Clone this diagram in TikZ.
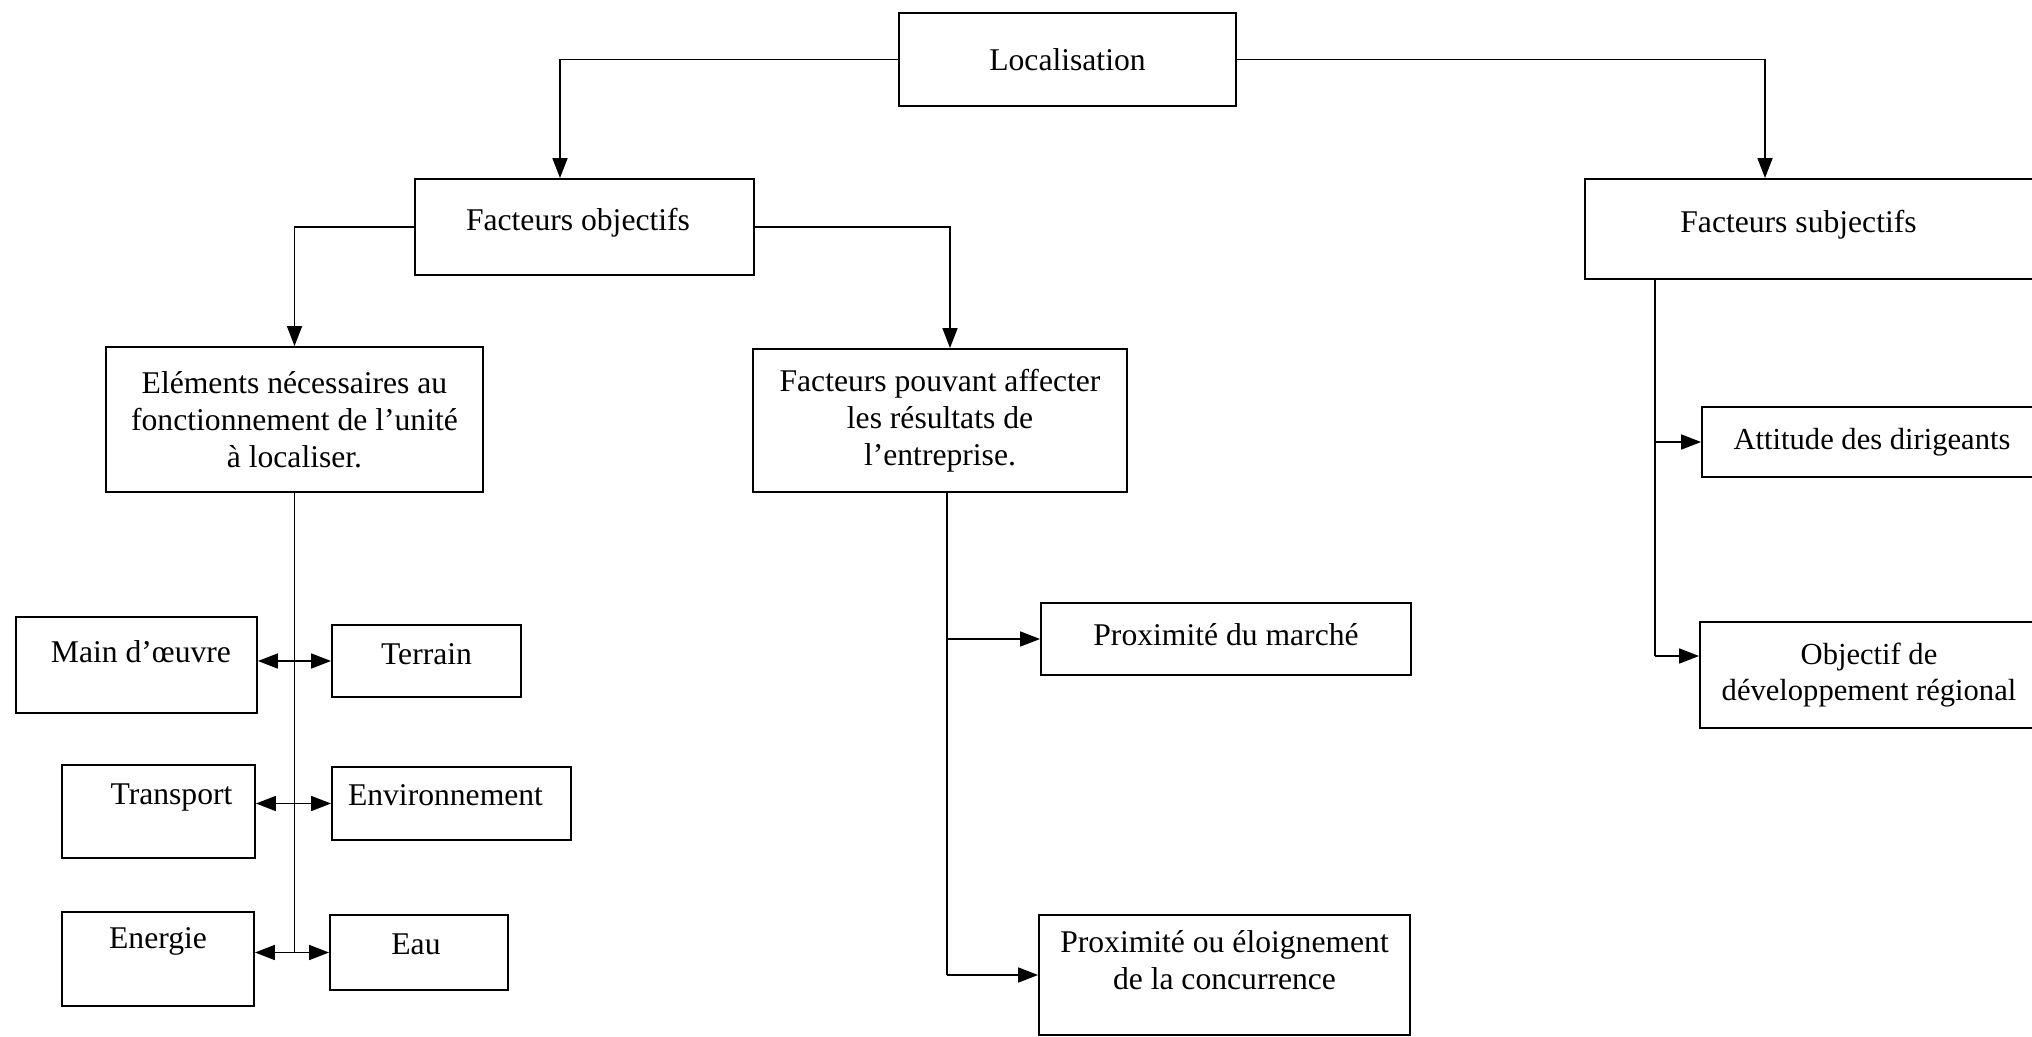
\documentclass[tikz,border=0pt]{standalone}
\usepackage{fontspec}
\setmainfont{Liberation Serif}
\usetikzlibrary{arrows.meta}

% texte decale dans sa boite (#1 = double du decalage horizontal, #2 = vertical)
\newcommand{\decale}[3]{\raisebox{#2}[\height][\depth]{\hspace*{#1}#3}}

\tikzset{
  boite/.style={draw, line width=1.1pt, align=center, inner sep=2pt,
    font=\fontsize{18}{21}\selectfont},
  petit/.style={font=\fontsize{17.4}{20.5}\selectfont},
  lien/.style={line width=1pt},
  fleche/.style={lien, -{Triangle[length=0.4cm,width=0.3cm]}},
  dfleche/.style={lien, {Triangle[length=0.4cm,width=0.3cm]}-{Triangle[length=0.4cm,width=0.3cm]}}
}

\begin{document}
\begin{tikzpicture}[x=0.02cm, y=-0.02cm]
    \useasboundingbox (0,0) rectangle (2032,1037);

    % Niveau 1
    \node[boite, minimum width=6.74cm, minimum height=1.86cm] (loc) at (1067.5,59.5) {Localisation};

    % Niveau 2
    \node[boite, minimum width=6.78cm, minimum height=1.92cm] (obj) at (584.5,227) {\decale{-0.26cm}{0.08cm}{Facteurs objectifs}};
    \node[boite, minimum width=9.5cm, minimum height=2cm] (subj) at (1822.5,229) {\decale{-0.96cm}{0.08cm}{Facteurs subjectifs}};

    % Niveau 3
    \node[boite, minimum width=7.54cm, minimum height=2.9cm] (elem) at (294.5,419.5)
        {Eléments nécessaires au\\fonctionnement de l’unité\\à localiser.};
    \node[boite, minimum width=7.48cm, minimum height=2.86cm] (pouv) at (940,420.5)
        {Facteurs pouvant affecter\\les résultats de\\l’entreprise.};
    \node[boite, petit, minimum width=6.8cm, minimum height=1.4cm] (att) at (1872,442) {Attitude des dirigeants};
    \node[boite, petit, minimum width=6.76cm, minimum height=2.12cm] (dev) at (1869,675)
        {Objectif de\\développement régional};

    % Elements
    \node[boite, minimum width=4.82cm, minimum height=1.92cm] (main) at (136.5,665) {\decale{0.18cm}{0.26cm}{Main d’œuvre}};
    \node[boite, minimum width=3.78cm, minimum height=1.44cm] (terr) at (426.5,661) {\decale{0cm}{0.13cm}{Terrain}};
    \node[boite, minimum width=3.86cm, minimum height=1.86cm] (transp) at (158.5,811.5) {\decale{0.52cm}{0.28cm}{Transport}};
    \node[boite, minimum width=4.78cm, minimum height=1.46cm] (env) at (451.5,803.5) {\decale{-0.24cm}{0.16cm}{Environnement}};
    \node[boite, minimum width=3.84cm, minimum height=1.88cm] (ener) at (158,959) {\decale{0cm}{0.36cm}{Energie}};
    \node[boite, minimum width=3.56cm, minimum height=1.5cm] (eau) at (419,952.5) {\decale{-0.12cm}{0.16cm}{Eau}};

    % Facteurs pouvant affecter
    \node[boite, minimum width=7.4cm, minimum height=1.44cm] (marche) at (1226,639) {\decale{0cm}{0.08cm}{Proximité du marché}};
    \node[boite, minimum width=7.42cm, minimum height=2.4cm] (conc) at (1224.5,975)
        {\decale{0cm}{0.22cm}{\begin{tabular}{@{}c@{}}Proximité ou éloignement\\de la concurrence\end{tabular}}};

    % Liens
    \draw[fleche] (loc.west) -| ([xshift=-0.49cm]obj.north);
    \draw[fleche] (loc.east) -| ([xshift=-1.15cm]subj.north);
    \draw[fleche] (obj.west) -| (elem.north);
    \draw[fleche] (obj.east) -| ([xshift=0.2cm]pouv.north);

    \draw[lien] (elem.south) -- (elem.south |- eau.west);
    \draw[dfleche] (main.east |- terr.west) -- (terr.west);
    \draw[dfleche] (transp.east |- env.west) -- (env.west);
    \draw[dfleche] (ener.east |- eau.west) -- (eau.west);

    \draw[lien] ([xshift=0.14cm]pouv.south) coordinate (pbus) -- (pbus |- conc.west);
    \draw[fleche] (pbus |- marche.west) -- (marche.west);
    \draw[fleche] (pbus |- conc.west) -- (conc.west);

    \coordinate (devin) at ([yshift=0.38cm]dev.west);
    \draw[lien] ([xshift=1.42cm]subj.south west) coordinate (sbus) -- (sbus |- devin);
    \draw[fleche] (sbus |- att.west) -- (att.west);
    \draw[fleche] (sbus |- devin) -- (devin);
\end{tikzpicture}
\end{document}
